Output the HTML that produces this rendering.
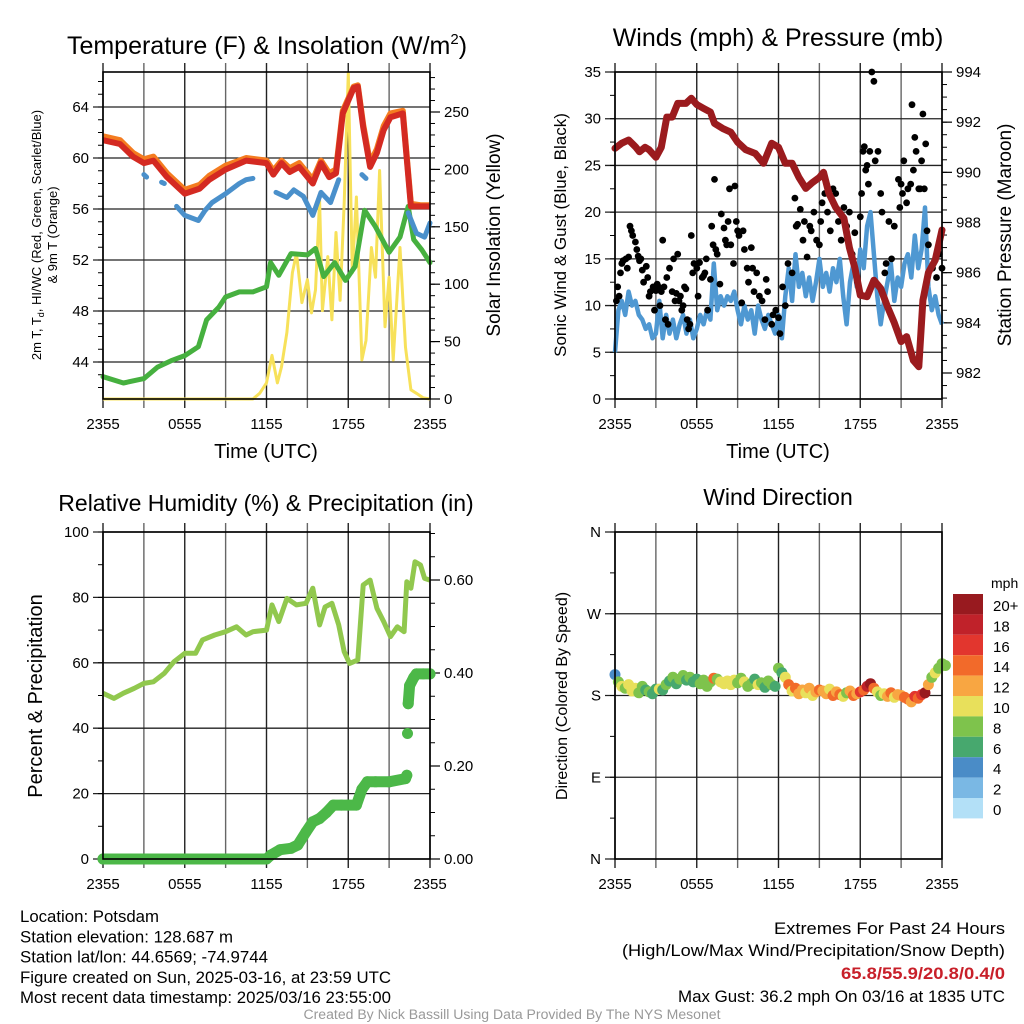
<!DOCTYPE html>
<html><head><meta charset="utf-8"><style>
html,body{margin:0;padding:0;background:#fff;width:1024px;height:1024px;overflow:hidden}
svg{display:block;font-family:"Liberation Sans",Arial,sans-serif}
</style></head><body>
<svg id="chart" width="1024" height="1024" viewBox="0 0 1024 1024" xmlns="http://www.w3.org/2000/svg">
<rect width="1024" height="1024" fill="#fff"/>
</svg>
<script>
// ===== DATA =====
const tempTimes = [0,1.25,2.2,3,3.7,4.7,6,7.1,7.8,9,10.5,12,12.5,13.1,13.7,14.4,15.4,16,16.6,17.1,17.6,18.4,18.7,19.1,19.6,20.1,20.6,21.1,22,22.6,23.3,24];
const tempValues = [61.4,61.1,60.1,59.6,59.8,58.5,57.2,57.6,58.3,59.1,59.8,59.6,58.7,59.6,58.9,59.3,58.0,59.6,58.5,58.8,63.5,65.5,65.6,62.4,59.3,60.4,62.2,63.2,63.5,56.2,56.2,56.2];
const temp9mValues = [61.7,61.4,60.4,59.9,60.1,58.8,57.5,57.9,58.6,59.4,60.0,59.8,59.0,59.8,59.2,59.6,58.3,59.8,58.8,59.1,63.7,65.6,65.7,62.6,59.6,60.7,62.5,63.5,63.7,56.4,56.3,56.3];
const dewTimes = [0,1.5,3,4,5,6,7,7.6,8.5,9,10,11,12,12.3,12.9,13.8,15,15.6,16.2,17,17.8,18.5,19.2,20,21,21.8,22.4,22.8,23.4,24];
const dewValues = [42.85,42.35,42.7,43.6,44.1,44.5,45.2,47.3,48.3,49.1,49.5,49.5,49.9,51.8,50.8,52.5,52.4,52.9,50.7,51.8,50.4,51.5,55.9,54.6,52.6,53.8,56.2,53.6,52.8,51.8];
const chillTimes = [3,3.2,null,4.3,4.5,null,5.4,6,7,7.5,8,9,10,10.5,11,null,12.7,13.5,14,14.7,15.4,16,16.7,17.3,null,19,19.3,null,22.4,23,23.6,24];
const chillValues = [58.7,58.5,null,58.1,58.0,null,56.2,55.5,55.1,55.9,56.5,57.2,58.0,58.3,58.4,null,57.3,56.9,57.5,57.0,55.5,57.3,56.5,58.3,null,58.7,58.4,null,55.7,54.1,53.8,54.9];
const solarTimes = [0,11,11.5,12,12.4,12.8,13.1,13.5,13.9,14.2,14.6,15,15.3,15.6,15.9,16.1,16.5,16.8,17.1,17.4,17.7,18,18.3,18.6,19,19.3,19.7,20,20.3,20.7,21,21.3,21.8,22.2,22.6,23,23.5,24];
const solarValues = [0,0,5,14,38,14,28,58,110,127,84,104,75,95,173,77,124,69,145,86,171,284,110,176,34,51,132,106,199,63,106,34,132,45,8,5,1,0];
const presTimes = [0,0.5,1,1.5,1.8,2.2,2.5,3,3.4,3.8,4.2,4.6,5.2,5.6,6,6.5,7,7.3,7.9,8.5,9,9.6,10.3,10.9,11.5,12,12.5,13,13.5,14,14.5,15,15.3,15.7,16.2,16.8,17.2,17.6,18,18.5,19,19.5,20,20.5,21,21.4,21.9,22.3,22.6,23,23.5,24];
const presValues = [990.96,991.16,991.29,991.02,990.82,991.0,990.9,990.6,991.0,992.2,992.2,992.75,992.75,992.95,992.7,992.55,992.4,991.95,991.75,991.6,991.2,990.9,990.75,990.36,991.16,991.0,990.36,990.36,989.8,989.36,989.6,989.8,990.0,989.16,988.6,988.17,987.0,986.2,985.1,985.04,985.7,985.37,984.64,984.0,983.25,983.45,982.5,982.25,984.9,986.0,986.5,987.7];
const windValues = [5.0,9.5,10.5,9.0,11.5,10.0,10.5,9.0,8.5,7.5,8.0,6.5,7.0,10.5,6.5,9.0,7.0,8.5,6.5,8.0,9.0,7.0,8.5,6.5,7.5,9.0,8.0,9.5,8.5,14.5,9.5,11.0,10.0,11.0,10.5,11.5,9.5,8.0,10.0,8.5,9.5,7.0,10.0,8.5,7.5,9.0,8.0,7.0,9.0,6.5,11.0,14.0,10.5,15.5,12.0,13.5,11.0,13.0,10.5,12.5,15.0,12.0,13.5,11.5,14.0,12.5,15.0,11.0,8.0,12.5,14.5,12.0,16.0,14.0,18.5,20.0,15.5,11.0,8.0,10.5,12.5,14.5,10.5,13.0,12.0,14.5,15.5,13.0,17.5,14.0,16.0,20.5,12.0,9.5,11.0,9.0,8.0];
const gustTimes = [0.1,0.2,0.3,0.4,0.5,0.6,0.8,0.9,1.0,1.1,1.2,1.3,1.5,1.6,1.7,1.8,1.9,2.0,2.1,2.3,2.4,2.5,2.6,2.8,2.9,3.0,3.1,3.2,3.3,3.4,3.5,3.6,3.7,3.8,3.9,4.0,4.2,4.3,4.4,4.5,4.6,4.7,4.8,4.9,5.0,5.1,5.2,5.3,5.4,5.5,5.6,5.7,5.8,6.0,6.1,6.2,6.4,6.5,6.6,6.7,6.8,7.0,7.1,7.2,7.3,7.4,7.5,7.7,7.8,8.0,8.1,8.2,8.3,8.4,8.5,8.7,8.8,8.9,9.0,9.1,9.3,9.4,9.5,9.7,9.8,10.0,10.1,10.2,10.4,10.6,10.8,11.0,11.1,11.2,11.5,11.6,11.8,12.0,12.1,12.3,12.5,12.7,13.0,13.2,13.3,13.4,13.6,13.8,13.9,14.1,14.3,14.4,14.6,14.8,15.0,15.1,15.2,15.4,15.6,15.8,16.0,16.2,16.4,16.6,16.8,17.0,17.2,17.4,17.6,17.8,18.0,18.1,18.2,18.3,18.4,18.5,18.6,18.7,18.85,19.0,19.1,19.3,19.5,19.6,19.8,19.9,20.1,20.3,20.5,20.8,20.9,21.0,21.1,21.2,21.4,21.5,21.7,21.8,21.9,22.0,22.1,22.3,22.4,22.5,22.6,22.7,22.8,22.9,23.0,23.3,23.6,23.8,24.0];
const gustValues = [10.5,12,11,13.5,14.5,14.8,15,14,15.2,18.5,18,17.5,16.8,16,15.3,14.8,15,13.8,12.5,14.2,13,11,11.5,12,9.5,11.6,12.3,12,10,11.5,17,12,8.5,13,8,14,11.5,15,10.5,11.3,15.5,10.5,11,9.5,10,12,11.8,8.5,7.5,8,17.5,13.5,14.5,14,11,14.6,13,13.2,13.5,15,9.5,12.8,18.5,16.5,23.5,16,15.5,12.3,19.8,18.3,17,16.5,19,22.5,16.5,14.5,22.8,19,18,17.5,10.3,18,16,14,12.5,16.2,14,11.5,13.5,11,10.5,8.5,12.8,11.5,8,9,9.5,8.7,7,12,10,14.5,13.5,21.5,18.5,18.7,20.3,17,19,15.2,18.5,18,20,17,16.5,19,21,22,20,18,22.5,22,19,17,20.5,18.5,20,15.5,17.8,12.5,19.5,22,26.5,27,24.5,25,23,26.5,35,34,25.5,26.5,22,20,13.5,14.5,19,15,18.5,23.5,20.5,23,22,25.5,21,22.5,23,31.5,24.5,28,26.5,22.5,22.5,25.5,30.5,22.5,27.3,18,16.5,14,13,15.5,14];
const rhTimes = [0,0.8,1.5,2.3,3,3.7,4.5,5.2,6,6.8,7.3,8.2,9,9.8,10.5,11,12,12.4,12.9,13.5,14.2,14.9,15.4,15.9,16.3,16.8,17.3,17.7,18.1,18.7,19.1,19.6,20.1,20.6,21.1,21.6,22.1,22.3,22.6,22.9,23.3,23.6,24];
const rhValues = [50.7,49.1,50.7,52.2,53.7,54.2,56.8,60.3,62.9,62.9,67,68.5,69.5,71,68.5,69.5,70,77.7,72.6,79.7,77.7,78.2,82.8,71.6,77.1,78.2,71.6,63.4,59.8,60.9,83.8,85.3,76.7,72.6,68,71,69.5,84.8,82.8,90.9,89.9,85.8,85.3];
const precipTimes = [0,2,4,6,8,10,12,12.3,13,13.8,14.3,14.9,15.4,15.9,16.4,16.9,17.5,18,18.6,19,19.4,20,21,22.2,22.3,22.35,22.4,22.5,22.8,23,23.5,24];
const precipValues = [0,0,0,0,0,0,0,0.008,0.02,0.023,0.03,0.058,0.08,0.087,0.1,0.116,0.116,0.116,0.116,0.15,0.166,0.166,0.166,0.173,0.18,0.27,0.334,0.373,0.39,0.398,0.398,0.398];
const dirValues = [203,195,190,188,192,185,188,183,190,186,184,182,187,187,186,192,196,200,193,198,202,197,200,195,198,193,197,190,195,199,198,195,193,196,192,197,194,199,195,190,193,198,192,194,189,196,192,190,210,205,200,192,185,188,182,186,183,188,180,184,186,185,182,187,180,184,181,179,183,185,180,182,184,186,190,193,188,184,180,182,179,183,178,181,180,178,176,173,179,177,181,183,192,200,205,210,215,213];
const xTickLabels = ["2355","0555","1155","1755","2355"];
const tempTicks = [44,48,52,56,60,64];
const solarTicks = [0,50,100,150,200,250];
const windTicks = [0,5,10,15,20,25,30,35];
const presTicks = [982,984,986,988,990,992,994];
const rhTicks = [0,20,40,60,80,100];
const precipTicks = [0,0.2,0.4,0.6];
const precipTickLabels = ["0.00","0.20","0.40","0.60"];
const dirTicks = [0,90,180,270,360];
const dirTickLabels = ["N","E","S","W","N"];
const cbLabels = ["20+","18","16","14","12","10","8","6","4","2","0"];
const cbColors = ["#981a1f","#c0222a","#e2362e","#f26a2a","#f8a642","#e8e05b","#7ec34c","#47a86e","#4a8cc7","#7ab8e4","#b3e0f7"];

// ===== HELPERS =====
const svg = document.getElementById('chart');
const NS = 'http://www.w3.org/2000/svg';
function mk(tag, attrs, name, parent){
  const el = document.createElementNS(NS, tag);
  for (const k in attrs) el.setAttribute(k, attrs[k]);
  
  
  (parent||svg).appendChild(el);
  return el;
}
function txt(x,y,s,size,name,extra){
  const a = Object.assign({x:x,y:y,'font-size':size,fill:'#000'}, extra||{});
  const el = mk('text', a, name);
  el.textContent = s;
  return el;
}
function linScale(d0,d1,r0,r1){ return v => r0 + (v-d0)*(r1-r0)/(d1-d0); }
function pathFrom(xs, ys, fx, fy){
  let d = '', pen = false;
  for (let i=0;i<xs.length;i++){
    if (xs[i]===null || ys[i]===null){ pen=false; continue; }
    d += (pen?'L':'M') + fx(xs[i]).toFixed(1) + ',' + fy(ys[i]).toFixed(1);
    pen = true;
  }
  return d;
}
function speedColor(v){
  const idx = Math.min(10, Math.floor(v/2));
  return cbColors[10-idx];
}

function frame(p, prefix){
  const X = linScale(0,24,p.x0,p.x1);
  for (let h=0; h<=24; h+=3){
    const x = X(h);
    mk('line',{x1:x,y1:p.y0-9,x2:x,y2:p.y1+9,stroke:(h%6===0)?'#222':'#666','stroke-width':1.4}, prefix+'-x-gridline');
  }
  xTickLabels.forEach((s,i)=>{ txt(X(i*6), p.y1+30, s, 15, prefix+'-x-tick-label', {'text-anchor':'middle'}); });
}
function leftAxis(p, ticks, labels, fy, minorStep, prefix, lmin, lmax){
  ticks.forEach((t,i)=>{
    const y = fy(t);
    mk('line',{x1:p.x0-10,y1:y,x2:p.x1,y2:y,stroke:'#222','stroke-width':1.3}, prefix+'-y-gridline');
    txt(p.x0-14, y+5, labels[i], 15, prefix+'-y-tick-label', {'text-anchor':'end'});
  });
  for (let v=lmin; v<=lmax+1e-9; v+=minorStep){
    const y=fy(v); if (y<p.y0-0.5||y>p.y1+0.5) continue;
    mk('line',{x1:p.x0-5,y1:y,x2:p.x0,y2:y,stroke:'#000','stroke-width':1}, prefix+'-y-minor-tick');
  }
}
function rightAxis(p, ticks, labels, fy, minorStep, prefix, lmin, lmax){
  ticks.forEach((t,i)=>{
    const y = fy(t);
    mk('line',{x1:p.x1,y1:y,x2:p.x1+10,y2:y,stroke:'#000','stroke-width':1.2}, prefix+'-right-tick');
    txt(p.x1+14, y+5, labels[i], 15, prefix+'-right-tick-label', {'text-anchor':'start'});
  });
  for (let v=lmin; v<=lmax+1e-9; v+=minorStep){
    const y=fy(v); if (y<p.y0-0.5||y>p.y1+0.5) continue;
    mk('line',{x1:p.x1,y1:y,x2:p.x1+5,y2:y,stroke:'#000','stroke-width':1}, prefix+'-right-minor-tick');
  }
}
function border(p, prefix){
  mk('rect',{x:p.x0,y:p.y0,width:p.x1-p.x0,height:p.y1-p.y0,fill:'none',stroke:'#000','stroke-width':1.6}, prefix+'-plot-border');
}

// ===== PANEL 1: Temperature =====
const P1 = {x0:103,x1:430,y0:72,y1:399};
const X1 = linScale(0,24,P1.x0,P1.x1);
const YT = linScale(64,44,107,362);
const YS = linScale(0,250,399,112);
frame(P1,'temp');
leftAxis(P1,tempTicks,tempTicks.map(String),YT,1,'temp',41,67);
rightAxis(P1,solarTicks,solarTicks.map(String),YS,10,'solar',0,290);
mk('path',{d:pathFrom(solarTimes,solarValues,X1,YS),fill:'none',stroke:'#f7e15a','stroke-width':3,'stroke-linejoin':'round'}, 'solar-insolation-line');
mk('path',{d:pathFrom(dewTimes,dewValues,X1,YT),fill:'none',stroke:'#46b03f','stroke-width':5,'stroke-linejoin':'round','stroke-linecap':'round'}, 'dewpoint-line');
mk('path',{d:pathFrom(chillTimes,chillValues,X1,YT),fill:'none',stroke:'#4a90cb','stroke-width':5,'stroke-linejoin':'round','stroke-linecap':'round'}, 'wind-chill-line');
mk('path',{d:pathFrom(tempTimes,temp9mValues,X1,YT),fill:'none',stroke:'#f47c20','stroke-width':6,'stroke-linejoin':'round'}, 'temp-9m-line');
mk('path',{d:pathFrom(tempTimes,tempValues,X1,YT),fill:'none',stroke:'#d42a22','stroke-width':6,'stroke-linejoin':'round'}, 'temp-2m-line');
border(P1,'temp');

// ===== PANEL 2: Winds =====
const P2 = {x0:615,x1:942,y0:72,y1:399};
const X2 = linScale(0,24,P2.x0,P2.x1);
const YW = linScale(0,35,399,72);
const YP = linScale(994,982,72,373);
frame(P2,'wind');
leftAxis(P2,windTicks,windTicks.map(String),YW,2.5,'wind',0,35);
rightAxis(P2,presTicks,presTicks.map(String),YP,0.5,'pressure',981,994);
const windTimes = windValues.map((v,i)=>i*0.25);
mk('path',{d:pathFrom(windTimes,windValues,X2,YW),fill:'none',stroke:'#4f98d2','stroke-width':4.5,'stroke-linejoin':'round'}, 'sonic-wind-line');
gustValues.forEach((v,i)=>{
  mk('circle',{cx:X2(gustTimes[i]).toFixed(1),cy:YW(v).toFixed(1),r:3.4,fill:'#000'}, 'gust-point');
});
mk('path',{d:pathFrom(presTimes,presValues,X2,YP),fill:'none',stroke:'#9b1b1e','stroke-width':7,'stroke-linejoin':'round','stroke-linecap':'round'}, 'pressure-line');
border(P2,'wind');

// ===== PANEL 3: RH & Precip =====
const P3 = {x0:103,x1:430,y0:532,y1:859};
const X3 = linScale(0,24,P3.x0,P3.x1);
const YR = linScale(0,100,859,532);
const YPr = linScale(0,0.2,859,766);
frame(P3,'rh');
leftAxis(P3,rhTicks,rhTicks.map(String),YR,10,'rh',0,100);
rightAxis(P3,precipTicks,precipTickLabels,YPr,0.05,'precip',0,0.7);
mk('path',{d:pathFrom(rhTimes,rhValues,X3,YR),fill:'none',stroke:'#91c84e','stroke-width':5,'stroke-linejoin':'round'}, 'relative-humidity-line');
{
  let d='';
  for (let i=0;i<precipTimes.length;i++){
    const jump = i>0 && (precipValues[i]-precipValues[i-1])>0.05;
    d += (i===0||jump?'M':'L') + X3(precipTimes[i]).toFixed(1)+','+YPr(precipValues[i]).toFixed(1);
  }
  mk('path',{d:d,fill:'none',stroke:'#4cb848','stroke-width':11,'stroke-linejoin':'round','stroke-linecap':'round'}, 'precipitation-line');
  precipValues.forEach((v,i)=>{
    mk('circle',{cx:X3(precipTimes[i]).toFixed(1),cy:YPr(v).toFixed(1),r:5.5,fill:'#4cb848'}, 'precipitation-point');
  });
}
border(P3,'rh');

// ===== PANEL 4: Wind Direction =====
const P4 = {x0:615,x1:942,y0:532,y1:859};
const X4 = linScale(0,24,P4.x0,P4.x1);
const YD = linScale(0,360,859,532);
frame(P4,'dir');
leftAxis(P4,dirTicks,dirTickLabels,YD,45,'dir',0,360);
dirValues.forEach((d,i)=>{
  const t = i*0.25;
  mk('circle',{cx:X4(t).toFixed(1),cy:YD(d).toFixed(1),r:5.5,fill:speedColor(windValues[Math.min(i,windValues.length-1)])}, 'wind-direction-point');
});
border(P4,'dir');
txt(991,588,'mph',14,'colorbar-title',{'text-anchor':'start'});
cbColors.forEach((c,i)=>{
  mk('rect',{x:953,y:594+i*20.4,width:30,height:20.4,fill:c}, 'colorbar-swatch');
  txt(993,594+i*20.4+17,cbLabels[i],15,'colorbar-label',{'text-anchor':'start'});
});

// ===== TITLES =====
const t1 = txt(267,54,'Temperature (F) & Insolation (W/m',25,'temp-panel-title',{'text-anchor':'middle'});
const sup = document.createElementNS(NS,'tspan'); sup.setAttribute('dy','-10'); sup.setAttribute('font-size','15'); sup.textContent='2'; t1.appendChild(sup);
const cl = document.createElementNS(NS,'tspan'); cl.setAttribute('dy','10'); cl.textContent=')'; t1.appendChild(cl);
txt(778,46,'Winds (mph) & Pressure (mb)',25,'wind-panel-title',{'text-anchor':'middle'});
txt(266,511,'Relative Humidity (%) & Precipitation (in)',23,'rh-panel-title',{'text-anchor':'middle'});
txt(778,505,'Wind Direction',23,'direction-panel-title',{'text-anchor':'middle'});
txt(266,458,'Time (UTC)',20,'temp-x-axis-title',{'text-anchor':'middle'});
txt(778,458,'Time (UTC)',20,'wind-x-axis-title',{'text-anchor':'middle'});

function vtext(x,y,s,size,name,rot){
  return txt(0,0,s,size,name,{'text-anchor':'middle',transform:'translate('+x+','+y+') rotate('+rot+')'});
}
const ya = vtext(41,235,'2m T, T',13,'temp-y-axis-title-line1',-90);
const sub = document.createElementNS(NS,'tspan'); sub.setAttribute('font-size','9'); sub.setAttribute('dy','3'); sub.textContent='d'; ya.appendChild(sub);
const rest = document.createElementNS(NS,'tspan'); rest.setAttribute('dy','-3'); rest.textContent=', HI/WC (Red, Green, Scarlet/Blue)'; ya.appendChild(rest);
vtext(57,235,'& 9m T (Orange)',13,'temp-y-axis-title-line2',-90);
vtext(500,235,'Solar Insolation (Yellow)',19,'solar-y-axis-title',-90);
vtext(566,235,'Sonic Wind & Gust (Blue, Black)',17,'wind-y-axis-title',-90);
vtext(1011,235,'Station Pressure (Maroon)',19,'pressure-y-axis-title',-90);
vtext(42,696,'Percent & Precipitation',20,'rh-y-axis-title',-90);
vtext(567,696,'Direction (Colored By Speed)',16,'direction-y-axis-title',-90);

// ===== FOOTER TEXT =====
const leftLines = ['Location: Potsdam','Station elevation: 128.687 m','Station lat/lon: 44.6569; -74.9744','Figure created on Sun, 2025-03-16, at 23:59 UTC','Most recent data timestamp: 2025/03/16 23:55:00'];
const leftWidths = [139,213,248,371,371];
leftLines.forEach((s,i)=>{ txt(20,922+i*20.3,s,16.5,'station-info-line',{textLength:leftWidths[i],lengthAdjust:'spacingAndGlyphs'}); });
txt(1005,934,'Extremes For Past 24 Hours',16.5,'extremes-title',{'text-anchor':'end',textLength:231,lengthAdjust:'spacingAndGlyphs'});
txt(1005,956,'(High/Low/Max Wind/Precipitation/Snow Depth)',16.5,'extremes-legend',{'text-anchor':'end',textLength:383,lengthAdjust:'spacingAndGlyphs'});
txt(1005,979,'65.8/55.9/20.8/0.4/0',16.5,'extremes-values',{'text-anchor':'end',fill:'#c8202a','font-weight':'bold',textLength:164,lengthAdjust:'spacingAndGlyphs'});
txt(1005,1002,'Max Gust: 36.2 mph On 03/16 at 1835 UTC',16.5,'max-gust-text',{'text-anchor':'end',textLength:327,lengthAdjust:'spacingAndGlyphs'});
txt(512,1019,'Created By Nick Bassill Using Data Provided By The NYS Mesonet',13.5,'credit-text',{'text-anchor':'middle',fill:'#999',textLength:417,lengthAdjust:'spacingAndGlyphs'});
</script>
</body></html>
